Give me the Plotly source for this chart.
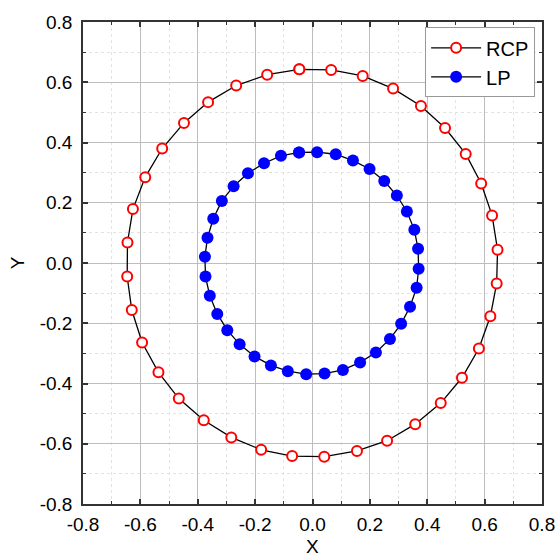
import plotly.graph_objects as go

rcp_x = [-0.046, 0.065, 0.175, 0.281, 0.378, 0.462, 0.534, 0.588, 0.626, 0.645, 0.642, 0.620,
         0.580, 0.521, 0.447, 0.358, 0.260, 0.155, 0.041, -0.071, -0.179, -0.283, -0.379, -0.466,
         -0.537, -0.594, -0.630, -0.646, -0.645, -0.626, -0.583, -0.524, -0.448, -0.364, -0.266, -0.158]
rcp_y = [0.643, 0.641, 0.621, 0.579, 0.521, 0.448, 0.362, 0.264, 0.158, 0.044, -0.068, -0.177,
         -0.284, -0.381, -0.465, -0.535, -0.590, -0.624, -0.643, -0.641, -0.620, -0.579, -0.522, -0.450,
         -0.363, -0.264, -0.156, -0.045, 0.068, 0.179, 0.285, 0.380, 0.465, 0.534, 0.589, 0.625]

lp_x = [-0.047, 0.016, 0.081, 0.141, 0.199, 0.250, 0.294, 0.329, 0.355, 0.368, 0.370, 0.363,
        0.340, 0.309, 0.270, 0.221, 0.166, 0.106, 0.042, -0.022, -0.086, -0.145, -0.202, -0.254,
        -0.297, -0.332, -0.358, -0.373, -0.375, -0.366, -0.346, -0.316, -0.275, -0.225, -0.169, -0.110]
lp_y = [0.367, 0.368, 0.361, 0.340, 0.312, 0.272, 0.224, 0.171, 0.110, 0.047, -0.019, -0.082,
        -0.145, -0.202, -0.252, -0.297, -0.330, -0.355, -0.367, -0.369, -0.359, -0.340, -0.310, -0.270,
        -0.223, -0.169, -0.109, -0.045, 0.021, 0.084, 0.147, 0.206, 0.255, 0.298, 0.331, 0.356]

tick_vals = [-0.8, -0.6, -0.4, -0.2, 0.0, 0.2, 0.4, 0.6, 0.8]
tick_text = ["-0.8", "-0.6", "-0.4", "-0.2", "0.0", "0.2", "0.4", "0.6", "0.8"]

FONT = "Liberation Sans, Arial, sans-serif"

fig = go.Figure()
fig.add_trace(go.Scatter(
    x=rcp_x + rcp_x[:1], y=rcp_y + rcp_y[:1], mode="lines+markers", name="RCP",
    line=dict(color="black", width=1.3),
    marker=dict(symbol="circle", size=10, color="white", line=dict(color="#ff0000", width=2)),
))
fig.add_trace(go.Scatter(
    x=lp_x + lp_x[:1], y=lp_y + lp_y[:1], mode="lines+markers", name="LP",
    line=dict(color="black", width=1.3),
    marker=dict(symbol="circle", size=12, color="#0000ff", line=dict(color="#0000ff", width=0)),
))

axis_common = dict(
    range=[-0.8, 0.8], tickmode="array", tickvals=tick_vals, ticktext=tick_text,
    showline=True, linecolor="#333333", linewidth=1.5, mirror="allticks",
    ticks="inside", ticklen=5, tickwidth=1.5, tickcolor="#333333",
    showgrid=True, gridcolor="#bdbdbd", gridwidth=1, zeroline=False,
    tickfont=dict(family=FONT, size=19, color="black"),
    minor=dict(dtick=0.1, tick0=0, ticks="inside", ticklen=3, tickwidth=1.2, tickcolor="#333333",
               showgrid=True, gridcolor="#e3e3e3", griddash="dot", gridwidth=1),
    automargin=False,
)

fig.update_xaxes(**axis_common, ticklabelstandoff=2)
fig.update_yaxes(**axis_common, ticklabelstandoff=5)

title_font = dict(family=FONT, size=19, color="black")
fig.add_annotation(text="X", xref="paper", yref="paper", x=0.5, y=-0.0892,
                   xanchor="center", yanchor="middle", showarrow=False, borderpad=0, font=title_font)
fig.add_annotation(text="Y", xref="paper", yref="paper", x=-0.143, y=0.5,
                   xanchor="center", yanchor="middle", showarrow=False, borderpad=0,
                   textangle=-90, font=title_font)

fig.update_layout(
    width=560, height=559,
    margin=dict(l=83, r=18, t=22, b=55),
    paper_bgcolor="white", plot_bgcolor="white",
    showlegend=True,
    legend=dict(x=0.985, y=0.989, xanchor="right", yanchor="top",
                font=dict(family=FONT, size=20, color="black"),
                bgcolor="white", bordercolor="#999999", borderwidth=1,
                tracegroupgap=0, itemwidth=50),
)

fig.write_html("out.html")
